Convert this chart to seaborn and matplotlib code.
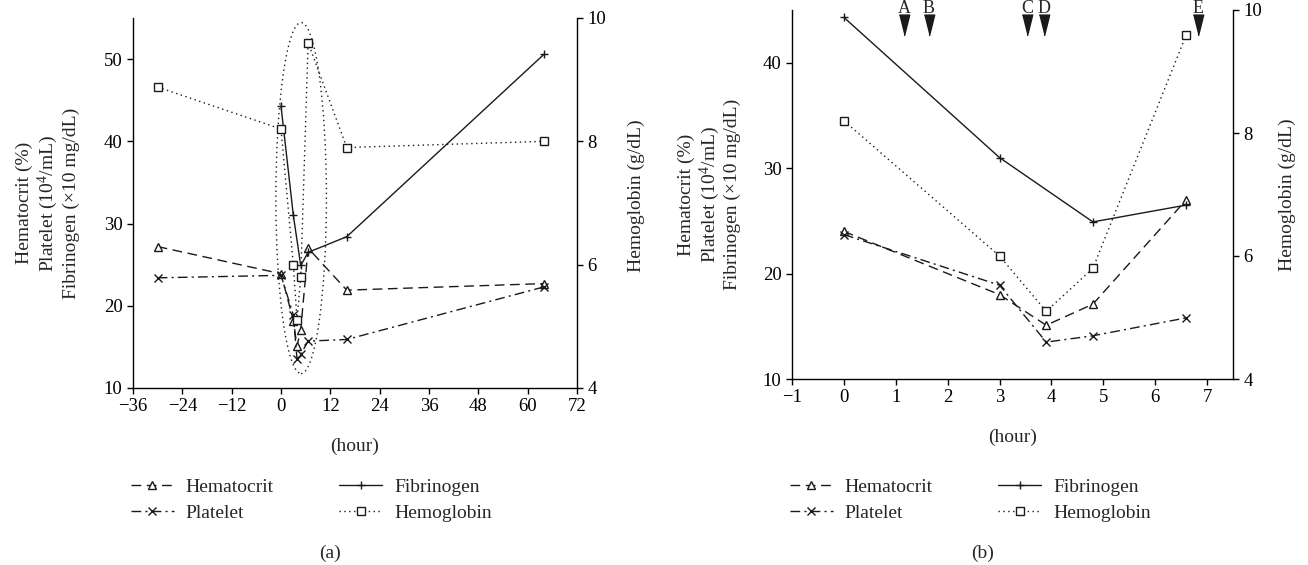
import numpy as np
import matplotlib.pyplot as plt
import seaborn as sns
from matplotlib.patches import Ellipse

sns.set_theme(style='ticks')
plt.rcParams['font.family'] = ['Liberation Serif', 'DejaVu Serif']
plt.rcParams['mathtext.fontset'] = 'custom'
plt.rcParams['mathtext.rm'] = 'Liberation Serif'
plt.rcParams['mathtext.default'] = 'rm'
plt.rcParams['font.size'] = 13.5
plt.rcParams['axes.edgecolor'] = 'black'
plt.rcParams['axes.linewidth'] = 1.0
plt.rcParams['xtick.color'] = 'black'
plt.rcParams['ytick.color'] = 'black'

# panel (a): whole course, hours relative to admission
t_a = [-30, 0, 3, 3.9, 4.8, 6.6, 16, 64]
hct_a = [27.2, 23.9, 18.2, 15.1, 17.1, 27.0, 21.9, 22.7]
plt_a = [23.4, 23.7, 18.9, 13.5, 14.1, 15.7, 15.9, 22.3]
fib_t_a = [0, 3, 4.8, 6.6, 16, 64]
fib_a = [44.3, 31.0, 24.9, 26.5, 28.4, 50.6]
hb_a = [8.88, 8.2, 6.0, 5.1, 5.8, 9.6, 7.9, 8.0]

# panel (b): first hours
t_b = [0, 3, 3.9, 4.8, 6.6]
hct_b = [24.0, 18.0, 15.1, 17.1, 27.0]
plt_b = [23.7, 18.9, 13.5, 14.1, 15.8]
fib_t_b = [0, 3, 4.8, 6.6]
fib_b = [44.3, 31.0, 24.9, 26.5]
hb_b = [8.2, 6.0, 5.1, 5.8, 9.6]

event_t = [1.16, 1.64, 3.53, 3.86, 6.83]
event_lbl = ['A', 'B', 'C', 'D', 'E']

labels = ['Hematocrit', 'Platelet', 'Fibrinogen', 'Hemoglobin']
left_lbl = 'Hematocrit (%)\nPlatelet (10$^4$/mL)\nFibrinogen (×10 mg/dL)'


def draw_panel(ax, t, hct, plat, fib_t, fib, hb, xlim, xticks, ylim, yticks, leg_y):
    common = dict(color='k', lw=1, markersize=5.5, markerfacecolor='white',
                  markeredgecolor='k', markeredgewidth=1)
    sns.lineplot(x=t, y=hct, ax=ax, linestyle=(0, (7, 4)), marker='^', **common)
    sns.lineplot(x=t, y=plat, ax=ax, linestyle=(0, (7, 3, 1.5, 3)), marker='x', **common)
    sns.lineplot(x=fib_t, y=fib, ax=ax, linestyle='-', marker='+', **common)
    h1, h2, h3 = ax.lines[-3:]
    ax2 = ax.twinx()
    sns.lineplot(x=t, y=hb, ax=ax2, linestyle=(0, (1, 2.5)), marker='s', **common)
    h4 = ax2.lines[-1]

    ax.set_xlim(*xlim)
    ax.set_xticks(xticks)
    ax.set_ylim(*ylim)
    ax.set_yticks(yticks)
    ax2.set_ylim(4, 10)
    ax2.set_yticks([4, 6, 8, 10])
    for a in (ax, ax2):
        a.spines['top'].set_visible(False)
        a.tick_params(direction='out', length=4, width=1, labelsize=13.5)
    ax.spines['right'].set_visible(False)
    ax2.spines['left'].set_visible(False)
    ax2.spines['bottom'].set_visible(False)

    ax.set_xlabel('(hour)', fontsize=14)
    ax.xaxis.set_label_coords(0.5, -0.135)
    ax.set_ylabel(left_lbl, fontsize=14, linespacing=1.15)
    ax2.set_ylabel('Hemoglobin (g/dL)', fontsize=14)

    ax.legend([h1, h2, h3, h4], labels, ncol=2, loc='upper left',
              bbox_to_anchor=(-0.005, leg_y), frameon=False, fontsize=14,
              handlelength=2.2, handletextpad=0.6, columnspacing=3.4,
              labelspacing=0.4, borderpad=0, borderaxespad=0)
    return ax2


fig = plt.figure(figsize=(13.08, 5.65), dpi=100)

ax_a = fig.add_axes([133 / 1308, 1 - 388 / 565, 444 / 1308, 370 / 565])
ax2_a = draw_panel(ax_a, t_a, hct_a, plt_a, fib_t_a, fib_a, hb_a,
                   (-36, 72), np.arange(-36, 73, 12), (10, 55),
                   [10, 20, 30, 40, 50], -0.245)
ax_a.add_patch(Ellipse((4.9, 33.1), 12.3, 42.7, fill=False, ec='k',
                       lw=1, ls=(0, (1, 2.5))))
ax_a.yaxis.set_label_coords(-0.12, 0.5)
ax2_a.yaxis.set_label_coords(1.115, 0.52)

ax_b = fig.add_axes([792 / 1308, 1 - 379 / 565, 441 / 1308, 369 / 565])
ax2_b = draw_panel(ax_b, t_b, hct_b, plt_b, fib_t_b, fib_b, hb_b,
                   (-1, 7.5), np.arange(-1, 8, 1), (10, 45),
                   [10, 20, 30, 40], -0.27)
ax_b.yaxis.set_label_coords(-0.115, 0.5)
ax2_b.yaxis.set_label_coords(1.104, 0.5)

# event markers above panel (b)
arrow = [(-1, 2), (1, 2), (0, -2)]
for x, s in zip(event_t, event_lbl):
    ax_b.plot([x], [43.6], marker=arrow, color='k', ms=15, clip_on=False)
    ax_b.text(x, 44.35, s, ha='center', va='bottom', fontsize=13, clip_on=False)

fig.text(330 / 1308, 1 - 553 / 565, '(a)', ha='center', va='center', fontsize=14)
fig.text(983 / 1308, 1 - 553 / 565, '(b)', ha='center', va='center', fontsize=14)

fig.savefig('out.png', dpi=100)
